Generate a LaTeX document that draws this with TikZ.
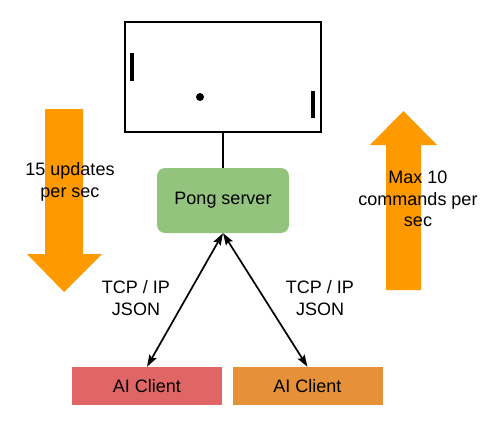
\documentclass[tikz,border=0pt]{standalone}
\usepackage{fontspec}
\setmainfont{Liberation Sans}
\usepackage{xcolor}
\usepackage{tikz}
\usetikzlibrary{arrows.meta}
\definecolor{servergreen}{HTML}{93C47D}
\definecolor{clientred}{HTML}{E06666}
\definecolor{clientorange}{HTML}{E69138}
\definecolor{flowgold}{HTML}{FF9900}

\begin{document}
\begin{tikzpicture}[x=1pt, y=-1pt,
    txt/.style={font=\fontsize{18}{21.5}\selectfont, align=center, inner sep=0pt},
    box/.style={minimum width=150pt, minimum height=38pt, text centered, font=\fontsize{18}{22}\selectfont},
    server/.style={box, fill=servergreen, rounded corners=8pt, minimum width=132pt, minimum height=65pt},
    client/.style={box},
    link/.style={{Stealth[length=12pt,width=8pt,inset=2pt]}-{Stealth[length=12pt,width=8pt,inset=2pt]}, line width=1.7pt}
]
\useasboundingbox (0,0) rectangle (495,428);

% big flow arrows
\fill[flowgold] (45,109) -- (83,109) -- (83,254) -- (102,254) -- (64,292) -- (27,254) -- (45,254) -- cycle;
\fill[flowgold] (403.5,111) -- (437,145) -- (421,145) -- (421,290) -- (386,290) -- (386,145) -- (370,145) -- cycle;

% pong board
\node[draw, line width=2pt, minimum width=196pt, minimum height=110pt] (board) at (223,77) {};
\fill (130,53) rectangle (134,81);
\fill (311,91) rectangle (315,118);
\fill (200,97) circle (4pt);

\node[server] (server) at (223,200.5) {Pong server};

\node[client, fill=clientred] (leftclient) at (147,386) {AI Client};
\node[client, fill=clientorange] (rightclient) at (307.5,386) {AI Client};

\node[txt] (updates) at (70,182) {15 updates\\per sec};
\node[txt] (commands) at (418,199) {Max 10\\commands per\\sec};
\node[txt] (leftproto) at (136,298) {TCP / IP\\JSON};
\node[txt] (rightproto) at (320,298) {TCP / IP\\JSON};

\draw[line width=1.5pt] (board) -- (server);
\draw[link] (server.south) -- (leftclient.north);
\draw[link] (server.south) -- (rightclient.north);

\end{tikzpicture}
\end{document}
